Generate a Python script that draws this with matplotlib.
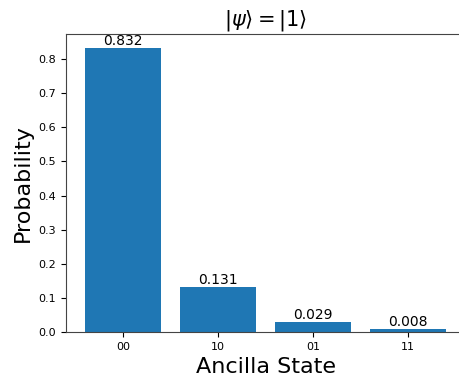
import matplotlib
matplotlib.use("Agg")
import matplotlib.pyplot as plt

states = ["00", "10", "01", "11"]
probs = [0.832, 0.131, 0.029, 0.008]

fig = plt.figure(figsize=(4.59, 3.78), dpi=100)
ax = fig.add_axes([66 / 459, 46 / 378, 399 / 459, 298 / 378])

bars = ax.bar(states, probs, color="#1f77b4", width=0.8)
for b, p in zip(bars, probs):
    ax.text(b.get_x() + b.get_width() / 2, p, f"{p:.3f}", ha="center", va="bottom", fontsize=10)

ax.set_xlim(-0.6, 3.6)
ax.set_ylim(0, 0.832 * 1.05)
ax.set_title(r"$|\psi\rangle = |1\rangle$", fontsize=15)
ax.set_xlabel("Ancilla State", fontsize=16)
ax.set_ylabel("Probability", fontsize=16)
ax.tick_params(labelsize=8)
for s in ax.spines.values():
    s.set_color("#444444")

fig.savefig("out.png", dpi=100)
